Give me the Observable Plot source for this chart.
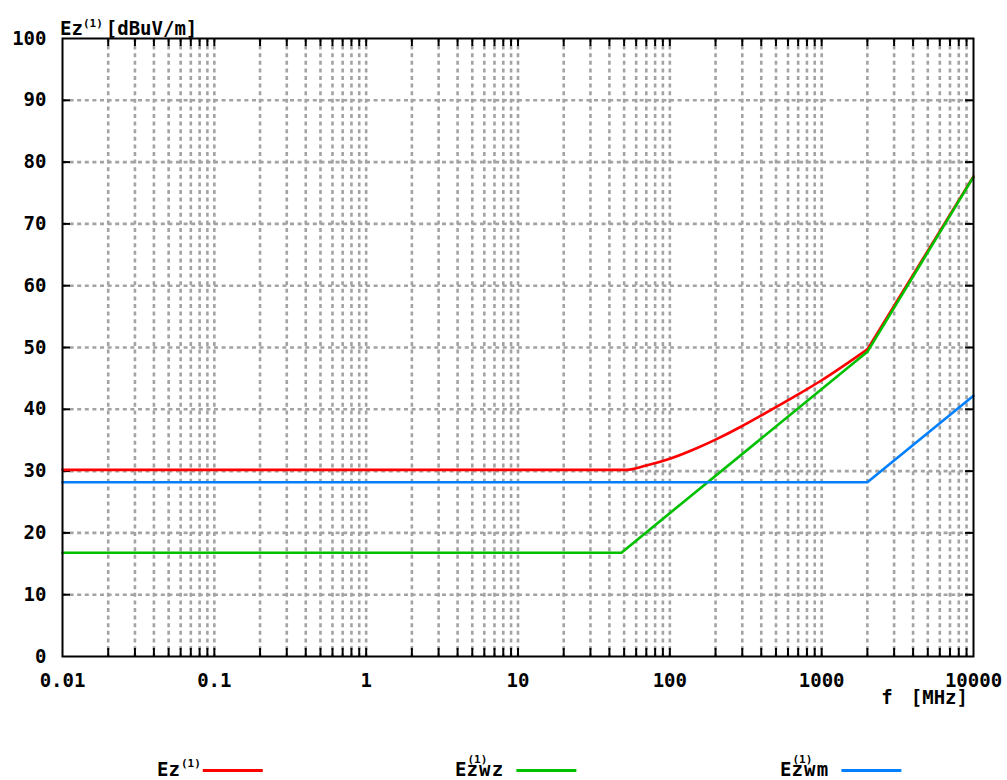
<!DOCTYPE html>
<html>
<head>
<meta charset="utf-8">
<script src="https://cdn.jsdelivr.net/npm/d3@7"></script>
<script src="https://cdn.jsdelivr.net/npm/@observablehq/plot@0.6"></script>
<style>
  body { margin: 0; background: #fff; }
  #chart { width: 1007px; font-family: "DejaVu Sans Mono", monospace; font-weight: bold; }
  #chart svg { display: block; }
</style>
</head>
<body>
<div id="chart"></div>
<script>
// Frequency axis (MHz, log scale) and level axis (dBuV/m)
const freqTicks = [0.01, 0.1, 1, 10, 100, 1000, 10000];
const freqTickLabels = ["0.01", "0.1", "1", "10", "100", "1000", "10000"];
const levelTicks = [0, 10, 20, 30, 40, 50, 60, 70, 80, 90, 100];

// Ez(1): total field (smooth rise up to 2 GHz, then straight)
const ezFreq  = [0.01, 52, 70, 100, 150, 200, 300, 400, 700, 1000, 2000, 10000];
const ezLevel = [30.2, 30.2, 30.9, 32.0, 33.7, 35.1, 37.3, 39.0, 42.4, 44.7, 49.7, 77.7];

// Ezwz(1)
const ezwzFreq  = [0.01, 48, 2000, 10000];
const ezwzLevel = [16.8, 16.8, 49.3, 77.6];

// Ezwm(1)
const ezwmFreq  = [0.01, 2000, 10000];
const ezwmLevel = [28.2, 28.2, 42.2];

// legend entries: base letter, superscript, subscript
const seriesBase   = ["Ez", "E", "E"];
const seriesSup    = ["(1)", "(1)", "(1)"];
const seriesSub    = ["", "zwz", "zwm"];
const seriesColors = ["#ff0000", "#00c000", "#0080ff"];

const toRows = (fs, ls) => fs.map((f, i) => ({f, level: ls[i]}));
const ezRows = toRows(ezFreq, ezLevel);
const ezwzRows = toRows(ezwzFreq, ezwzLevel);
const ezwmRows = toRows(ezwmFreq, ezwmLevel);
const kneeFreq = 2000;
const ezLow = ezRows.filter(d => d.f <= kneeFreq);
const ezHigh = ezRows.filter(d => d.f >= kneeFreq);

// grid at 1..9 × each decade, inside the frame
const gridFreqs = [];
for (let e = -2; e < 4; e++) for (let m = 1; m <= 9; m++) {
  const v = +(m * Math.pow(10, e)).toPrecision(3);
  if (v > 0.01 && v < 10000) gridFreqs.push(v);
}
const gridLevels = levelTicks.slice(1, -1);

const W = 1007, H = 728, mL = 62, mR = 34, mT = 38, mB = 72;
const innerW = W - mL - mR, innerH = H - mT - mB, tickLen = 8;
const labelOf = new Map(freqTicks.map((t, i) => [t, freqTickLabels[i]]));
const gridStyle = {stroke: "#a3a3a3", strokeWidth: 2.6, strokeDasharray: "4,3.6"};
const lineStyle = {x: "f", y: "level", strokeWidth: 2.6};
const fontFamily = "'DejaVu Sans Mono', monospace";

const chart = Plot.plot({
  width: W, height: H,
  marginLeft: mL, marginRight: mR, marginTop: mT, marginBottom: mB,
  style: {fontFamily, fontSize: "19px", fontWeight: "bold", color: "#000", background: "#fff"},
  x: {type: "log", domain: [0.01, 10000]},
  y: {domain: [0, 100]},
  marks: [
    Plot.ruleX(gridFreqs, {x: d => d, ...gridStyle}),
    Plot.ruleY(gridLevels, {y: d => d, ...gridStyle}),
    Plot.tickX(gridFreqs, {x: d => d, insetTop: innerH - tickLen, stroke: "#000", strokeWidth: 2}),
    Plot.tickX(gridFreqs, {x: d => d, insetBottom: innerH - tickLen, stroke: "#000", strokeWidth: 2}),
    Plot.tickY(gridLevels, {y: d => d, insetRight: innerW - tickLen, stroke: "#000", strokeWidth: 2}),
    Plot.tickY(gridLevels, {y: d => d, insetLeft: innerW - tickLen, stroke: "#000", strokeWidth: 2}),
    Plot.line(ezLow, {...lineStyle, stroke: seriesColors[0], curve: "monotone-x"}),
    Plot.line(ezHigh, {...lineStyle, stroke: seriesColors[0]}),
    Plot.line(ezwzRows, {...lineStyle, stroke: seriesColors[1]}),
    Plot.line(ezwmRows, {...lineStyle, stroke: seriesColors[2]}),
    Plot.frame({stroke: "#000", strokeWidth: 2}),
    Plot.axisX({ticks: freqTicks, tickSize: 0, tickPadding: 17, tickFormat: d => labelOf.get(d), label: null}),
    Plot.axisY({ticks: levelTicks, tickSize: 0, tickPadding: 16, label: null})
  ]
});

// axis titles
const svg = d3.select(chart);
const yTitle = svg.append("text").attr("x", 60).attr("y", 35).attr("text-anchor", "start")
  .attr("fill", "#000").attr("font-size", 19).attr("font-weight", "bold");
yTitle.append("tspan").text("Ez");
yTitle.append("tspan").attr("font-size", 11).attr("dy", -8).text("(1)");
yTitle.append("tspan").attr("dy", 8).attr("dx", 3).text("[dBuV/m]");
const xTitle = svg.append("text").attr("x", 968).attr("y", 704).attr("text-anchor", "end")
  .attr("fill", "#000").attr("font-size", 19).attr("font-weight", "bold");
xTitle.append("tspan").text("f");
xTitle.append("tspan").attr("dx", 18).text("[MHz]");

const root = document.getElementById("chart");
root.appendChild(chart);

// legend below the plot: label with stacked (1) and subscript, then a line sample
const legendLeft = [157, 455, 780];
const legendGap = [2, 12, 12];
const legend = d3.select(root).append("svg")
  .attr("width", W).attr("height", 780 - H)
  .style("font-family", fontFamily).style("font-weight", "bold");
seriesBase.forEach((base, i) => {
  const t = legend.append("text").attr("x", legendLeft[i]).attr("y", 48)
    .attr("fill", "#000").attr("font-size", 19).attr("text-anchor", "start");
  t.append("tspan").text(base);
  const raise = seriesSub[i] ? 13 : 9;
  const sup = t.append("tspan").attr("font-size", 11).attr("dy", -raise).attr("dx", 1).text(seriesSup[i]);
  if (seriesSub[i]) {
    const w = sup.node().getComputedTextLength();
    t.append("tspan").attr("dx", -w - 1).attr("dy", raise).attr("letter-spacing", 1.2).text(seriesSub[i]);
  }
  const bb = t.node().getBBox();
  const x0 = bb.x + bb.width + legendGap[i];
  legend.append("line").attr("x1", x0).attr("x2", x0 + 60).attr("y1", 42.5).attr("y2", 42.5)
    .attr("stroke", seriesColors[i]).attr("stroke-width", 3);
});
</script>
</body>
</html>
